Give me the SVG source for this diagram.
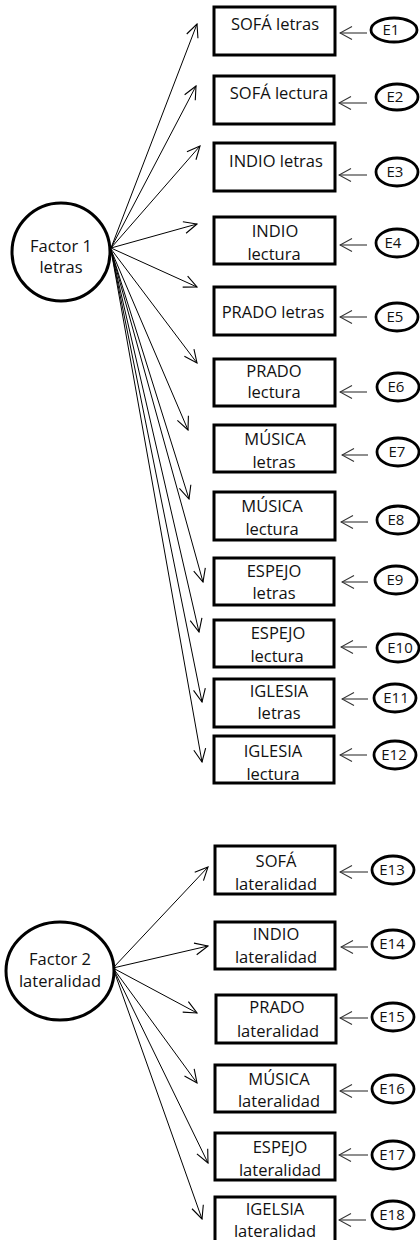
<svg xmlns="http://www.w3.org/2000/svg" width="420" height="1240" viewBox="0 0 420 1240">
<defs>
<marker id="ah" markerUnits="userSpaceOnUse" viewBox="-15 -8 16 16" refX="0" refY="0" markerWidth="16" markerHeight="16" orient="auto">
<path d="M-13,-6 L0,0 L-13,6" fill="none" stroke="#000" stroke-width="1.1"/>
</marker>
<marker id="ah2" markerUnits="userSpaceOnUse" viewBox="-15 -8 16 16" refX="0" refY="0" markerWidth="16" markerHeight="16" orient="auto">
<path d="M-12,-6.5 L0,0 L-12,6.5" fill="none" stroke="#333" stroke-width="1.1"/>
</marker>
</defs>
<style>
.box{fill:#fff;stroke:#000;stroke-width:3}
.fac{fill:#fff;stroke:#000;stroke-width:3}
.err{fill:#fff;stroke:#000;stroke-width:2.8}
.t{font-family:"Open Sans","Noto Sans",sans-serif;font-size:16.5px;fill:#111;text-anchor:middle}
.te{font-family:"Open Sans","Noto Sans",sans-serif;font-size:15px;fill:#111;text-anchor:middle}
.ln{stroke:#000;stroke-width:1;fill:none;marker-end:url(#ah)}
.le{stroke:#333;stroke-width:1.1;fill:none;marker-end:url(#ah2)}
</style>
<rect width="420" height="1240" fill="#fff"/>
<g id="connectors">
<line class="ln" x1="111" y1="248" x2="197" y2="24"/>
<line class="ln" x1="111" y1="248" x2="196" y2="86"/>
<line class="ln" x1="111" y1="248" x2="200" y2="146"/>
<line class="ln" x1="111" y1="248" x2="197" y2="224"/>
<line class="ln" x1="111" y1="248" x2="197" y2="287"/>
<line class="ln" x1="111" y1="249" x2="197" y2="363"/>
<line class="ln" x1="111" y1="250" x2="188" y2="430"/>
<line class="ln" x1="111" y1="250" x2="189" y2="499"/>
<line class="ln" x1="111" y1="250" x2="203" y2="582"/>
<line class="ln" x1="111" y1="250" x2="199" y2="632"/>
<line class="ln" x1="111" y1="250" x2="202" y2="702"/>
<line class="ln" x1="111" y1="250" x2="202" y2="762"/>
<line class="ln" x1="113" y1="968" x2="208" y2="867"/>
<line class="ln" x1="113" y1="968" x2="208" y2="946"/>
<line class="ln" x1="113" y1="968" x2="197" y2="1013"/>
<line class="ln" x1="113" y1="968" x2="197" y2="1083"/>
<line class="ln" x1="113" y1="968" x2="208" y2="1163"/>
<line class="ln" x1="113" y1="968" x2="202" y2="1219"/>
<line class="le" x1="367" y1="33" x2="340" y2="33"/>
<line class="le" x1="367" y1="103" x2="339" y2="103"/>
<line class="le" x1="367" y1="175" x2="339" y2="175"/>
<line class="le" x1="367" y1="245" x2="340" y2="245"/>
<line class="le" x1="367" y1="317" x2="340" y2="317"/>
<line class="le" x1="367" y1="392" x2="340" y2="392"/>
<line class="le" x1="368" y1="455" x2="342" y2="455"/>
<line class="le" x1="368" y1="522" x2="341" y2="522"/>
<line class="le" x1="368" y1="582" x2="342" y2="582"/>
<line class="le" x1="367" y1="647" x2="341" y2="647"/>
<line class="le" x1="368" y1="699" x2="342" y2="699"/>
<line class="le" x1="367" y1="755" x2="340" y2="755"/>
<line class="le" x1="368" y1="872" x2="340" y2="872"/>
<line class="le" x1="368" y1="947" x2="341" y2="947"/>
<line class="le" x1="368" y1="1018" x2="340" y2="1018"/>
<line class="le" x1="368" y1="1091" x2="340" y2="1091"/>
<line class="le" x1="368" y1="1155" x2="339" y2="1155"/>
<line class="le" x1="366" y1="1220" x2="339" y2="1220"/>
</g>
<g id="factor1"><circle class="fac" cx="61" cy="252" r="49"/><text class="t" x="61" y="252">Factor 1</text><text class="t" x="61" y="273">letras</text></g>
<g id="factor2"><ellipse class="fac" cx="60" cy="971" rx="54" ry="49"/><text class="t" x="60" y="965">Factor 2</text><text class="t" x="60" y="987">lateralidad</text></g>
<g id="v1"><rect class="box" x="214" y="7" width="121" height="48"/><text class="t" x="275" y="30">SOFÁ letras</text></g>
<g id="v2"><rect class="box" x="214" y="76" width="120" height="48"/><text class="t" x="279" y="99">SOFÁ lectura</text></g>
<g id="v3"><rect class="box" x="214" y="143" width="121" height="48"/><text class="t" x="276" y="167">INDIO letras</text></g>
<g id="v4"><rect class="box" x="214" y="217" width="121" height="47"/><text class="t" x="275" y="237">INDIO</text><text class="t" x="274" y="260">lectura</text></g>
<g id="v5"><rect class="box" x="214" y="287" width="121" height="48"/><text class="t" x="273" y="318">PRADO letras</text></g>
<g id="v6"><rect class="box" x="214" y="359" width="121" height="47"/><text class="t" x="274" y="377">PRADO</text><text class="t" x="274" y="398">lectura</text></g>
<g id="v7"><rect class="box" x="214" y="425" width="121" height="47"/><text class="t" x="275" y="445">MÚSICA</text><text class="t" x="274" y="468">letras</text></g>
<g id="v8"><rect class="box" x="214" y="492" width="121" height="48"/><text class="t" x="272" y="512">MÚSICA</text><text class="t" x="272" y="535">lectura</text></g>
<g id="v9"><rect class="box" x="214" y="558" width="120" height="47"/><text class="t" x="274" y="577">ESPEJO</text><text class="t" x="274" y="599">letras</text></g>
<g id="v10"><rect class="box" x="214" y="620" width="120" height="47"/><text class="t" x="278" y="639">ESPEJO</text><text class="t" x="277" y="662">lectura</text></g>
<g id="v11"><rect class="box" x="214" y="679" width="120" height="48"/><text class="t" x="279" y="697">IGLESIA</text><text class="t" x="279" y="719">letras</text></g>
<g id="v12"><rect class="box" x="214" y="736" width="120" height="47"/><text class="t" x="273" y="757">IGLESIA</text><text class="t" x="273" y="780">lectura</text></g>
<g id="v13"><rect class="box" x="215" y="846" width="120" height="48"/><text class="t" x="276" y="867">SOFÁ</text><text class="t" x="276" y="890">lateralidad</text></g>
<g id="v14"><rect class="box" x="215" y="922" width="120" height="47"/><text class="t" x="276" y="940">INDIO</text><text class="t" x="276" y="963">lateralidad</text></g>
<g id="v15"><rect class="box" x="216" y="995" width="120" height="48"/><text class="t" x="277" y="1013">PRADO</text><text class="t" x="278" y="1037">lateralidad</text></g>
<g id="v16"><rect class="box" x="215" y="1065" width="120" height="47"/><text class="t" x="279" y="1085">MÚSICA</text><text class="t" x="279" y="1107">lateralidad</text></g>
<g id="v17"><rect class="box" x="215" y="1133" width="120" height="47"/><text class="t" x="280" y="1153">ESPEJO</text><text class="t" x="280" y="1176">lateralidad</text></g>
<g id="v18"><rect class="box" x="215" y="1197" width="120" height="50"/><text class="t" x="275" y="1215">IGELSIA</text><text class="t" x="275" y="1237">lateralidad</text></g>
<g id="e1"><ellipse class="err" cx="394" cy="30" rx="23" ry="12"/><text class="te" x="391" y="35">E1</text></g>
<g id="e2"><ellipse class="err" cx="397" cy="97" rx="21" ry="13"/><text class="te" x="395" y="102">E2</text></g>
<g id="e3"><ellipse class="err" cx="397" cy="172" rx="21" ry="14"/><text class="te" x="395" y="177">E3</text></g>
<g id="e4"><ellipse class="err" cx="397" cy="243" rx="21" ry="14"/><text class="te" x="393" y="248">E4</text></g>
<g id="e5"><ellipse class="err" cx="397" cy="317" rx="21" ry="14"/><text class="te" x="395" y="322">E5</text></g>
<g id="e6"><ellipse class="err" cx="398" cy="387" rx="21" ry="14"/><text class="te" x="396" y="392">E6</text></g>
<g id="e7"><ellipse class="err" cx="398" cy="452" rx="21" ry="14"/><text class="te" x="397" y="457">E7</text></g>
<g id="e8"><ellipse class="err" cx="398" cy="520" rx="21" ry="14"/><text class="te" x="396" y="525">E8</text></g>
<g id="e9"><ellipse class="err" cx="396" cy="580" rx="21" ry="14"/><text class="te" x="395" y="585">E9</text></g>
<g id="e10"><ellipse class="err" cx="398" cy="648" rx="21" ry="14"/><text class="te" x="400" y="653">E10</text></g>
<g id="e11"><ellipse class="err" cx="395" cy="698" rx="21" ry="14"/><text class="te" x="396" y="703">E11</text></g>
<g id="e12"><ellipse class="err" cx="395" cy="755" rx="21" ry="14"/><text class="te" x="394" y="760">E12</text></g>
<g id="e13"><ellipse class="err" cx="393" cy="870" rx="21" ry="14"/><text class="te" x="392" y="875">E13</text></g>
<g id="e14"><ellipse class="err" cx="393" cy="944" rx="21" ry="14"/><text class="te" x="392" y="949">E14</text></g>
<g id="e15"><ellipse class="err" cx="393" cy="1017" rx="21" ry="14"/><text class="te" x="392" y="1022">E15</text></g>
<g id="e16"><ellipse class="err" cx="393" cy="1089" rx="21" ry="14"/><text class="te" x="392" y="1094">E16</text></g>
<g id="e17"><ellipse class="err" cx="393" cy="1155" rx="21" ry="14"/><text class="te" x="392" y="1160">E17</text></g>
<g id="e18"><ellipse class="err" cx="393" cy="1215" rx="21" ry="14"/><text class="te" x="392" y="1220">E18</text></g>
</svg>
